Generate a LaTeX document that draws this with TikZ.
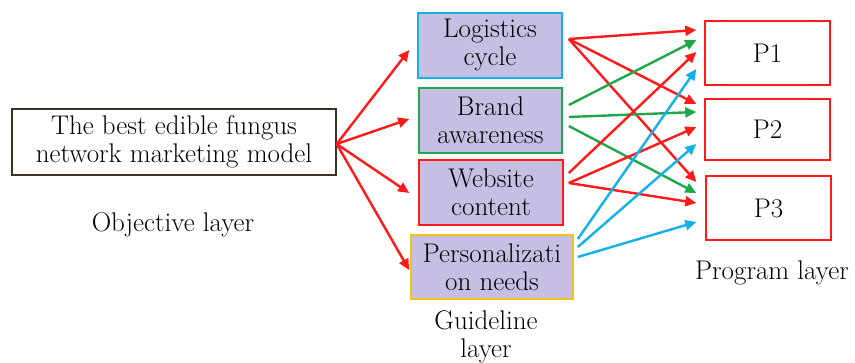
\documentclass[tikz,border=0pt]{standalone}
\usetikzlibrary{arrows.meta}
\definecolor{cred}{HTML}{FF1A1A}
\definecolor{cgreen}{HTML}{1EA84A}
\definecolor{ccyan}{HTML}{14B0EA}
\definecolor{cgold}{HTML}{F2C21A}
\definecolor{clav}{HTML}{C6BEE3}
\definecolor{cdark}{HTML}{3A3226}
\begin{document}
\begin{tikzpicture}[x=1pt,y=-1pt,
  txt/.style={font=\fontsize{27}{28}\selectfont, align=center, inner sep=0pt},
  gbox/.style={txt, draw=#1, line width=1.6pt, fill=clav},
  pbox/.style={txt, draw=cred, line width=1.4pt, fill=white, minimum width=125pt},
  arr/.style={draw=#1, line width=2.4pt, -{Triangle[length=11pt,width=10pt]}, color=#1}]
\useasboundingbox (0,0) rectangle (855,363);
\node[txt, draw=cdark, line width=1.4pt, minimum width=324pt, minimum height=66pt] (obj) at (174,142) {The best edible fungus\\network marketing model};
\node[txt] (objl) at (173,225) {Objective layer};
\node[gbox=ccyan, minimum width=144pt, minimum height=65pt] (log) at (490,45.5) {Logistics\\cycle};
\node[gbox=cgreen, minimum width=143pt, minimum height=65pt] (bra) at (490.5,120.5) {Brand\\awareness};
\node[gbox=cred, minimum width=144pt, minimum height=65pt] (web) at (491,192.5) {Website\\content};
\node[gbox=cgold, minimum width=162pt, minimum height=64pt] (per) at (492,267) {Personalizati\\on needs};
\node[txt] (gl) at (486,337) {Guideline\\layer};
\node[pbox, minimum height=64pt] (p1) at (767.5,53) {P1};
\node[pbox, minimum height=61pt] (p2) at (767.5,129.5) {P2};
\node[pbox, minimum height=64pt] (p3) at (768.5,208) {P3};
\node[txt] (pl) at (772,273) {Program layer};
% objective to guideline
\draw[arr=cred] ([yshift=-2pt]obj.east) -- ([shift={(-8,4.5)}]log.west);
\draw[arr=cred] ([yshift=-2pt]obj.east) -- ([shift={(-9,-1.5)}]bra.west);
\draw[arr=cred] ([yshift=-2pt]obj.east) -- ([shift={(-9,0.5)}]web.west);
\draw[arr=cred] ([yshift=-2pt]obj.east) -- ([shift={(-1,3)}]per.west);
% logistics
\draw[arr=cred] ([shift={(6,-6.5)}]log.east) -- ([shift={(-8,-23)}]p1.west);
\draw[arr=cred] ([shift={(6,-6.5)}]log.east) -- ([shift={(-8,-25.5)}]p2.west);
\draw[arr=cred] ([shift={(6,-6.5)}]log.east) -- ([shift={(-9,-26)}]p3.west);
% brand
\draw[arr=cgreen] ([shift={(6,-15.5)}]bra.east) -- ([shift={(-8,-13)}]p1.west);
\draw[arr=cgreen] ([shift={(6,-3.5)}]bra.east) -- ([shift={(-8,-17.5)}]p2.west);
\draw[arr=cgreen] ([shift={(6,5.5)}]bra.east) -- ([shift={(-9,-15)}]p3.west);
% website
\draw[arr=cred] ([shift={(5,-19.5)}]web.east) -- ([shift={(-8,-1)}]p1.west);
\draw[arr=cred] ([shift={(5,-9.5)}]web.east) -- ([shift={(-8,-2.5)}]p2.west);
\draw[arr=cred] ([shift={(5,-9.5)}]web.east) -- ([shift={(-9,-5)}]p3.west);
% personalization
\draw[arr=ccyan] ([shift={(4,-28)}]per.east) -- ([shift={(-8,16)}]p1.west);
\draw[arr=ccyan] ([shift={(4,-20)}]per.east) -- ([shift={(-8,14.5)}]p2.west);
\draw[arr=ccyan] ([shift={(4,-10)}]per.east) -- ([shift={(-9,14)}]p3.west);
\end{tikzpicture}
\end{document}
